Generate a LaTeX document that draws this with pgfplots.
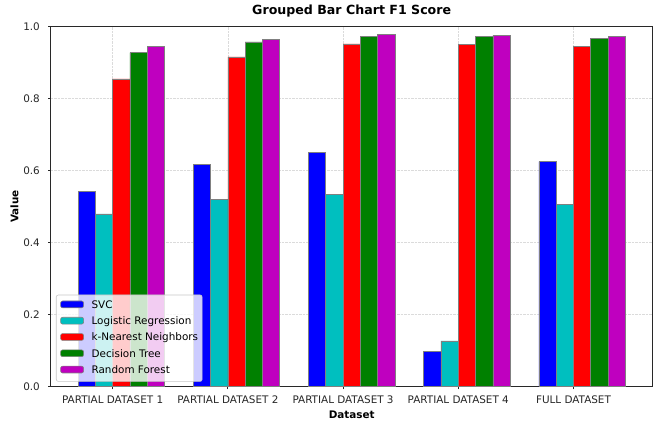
\documentclass[border=0pt]{standalone}
\usepackage{fontspec}
\setmainfont{DejaVu Sans}
\usepackage{pgfplots}
\usepackage{pgfplotstable}
\pgfplotsset{compat=1.18}

\definecolor{cSVC}{RGB}{0,0,255}
\definecolor{cLR}{RGB}{0,191,191}
\definecolor{cKNN}{RGB}{255,0,0}
\definecolor{cDT}{RGB}{0,128,0}
\definecolor{cRF}{RGB}{191,0,191}
\definecolor{spine}{RGB}{40,40,40}

\newcommand\labelfont{\fontsize{10.4}{12}\selectfont}

% F1 score per dataset (rows) and classifier (columns)
\pgfplotstableread{
pos svc   logreg knn   tree  forest
0   0.543 0.480  0.855 0.928 0.945
1   0.617 0.521  0.916 0.958 0.965
2   0.651 0.534  0.952 0.973 0.979
3   0.098 0.127  0.950 0.974 0.976
4   0.625 0.506  0.946 0.967 0.974
}\fscores

\begin{document}
\begin{tikzpicture}
\begin{axis}[
  at={(0,0)}, anchor=south west,
  scale only axis, width=602pt, height=360pt,
  xmin=-0.5375, xmax=4.6875, ymin=0, ymax=1,
  ybar, bar width=0.15,
  xtick={0,1,2,3,4},
  xticklabels={PARTIAL DATASET 1,PARTIAL DATASET 2,PARTIAL DATASET 3,PARTIAL DATASET 4,FULL DATASET},
  ytick={0,0.2,0.4,0.6,0.8,1},
  /pgf/number format/assume math mode=true,
  ticklabel style={font=\labelfont, text=black!85},
  xticklabel style={anchor=base, yshift=-14.7pt, inner sep=0pt},
  yticklabel style={/pgf/number format/fixed, /pgf/number format/fixed zerofill,
    /pgf/number format/precision=1, anchor=east, xshift=-8.1pt, inner sep=0pt},
  tick pos=left, tick align=outside, major tick length=2.6pt,
  tick style={draw=spine, line width=0.7pt},
  axis line style={draw=spine, line width=0.8pt},
  grid=major,
  major grid style={draw=black!14, line width=0.6pt, dash pattern=on 2.4pt off 1.1pt},
  title={Grouped Bar Chart F1 Score},
  title style={font=\bfseries\fontsize{12.6}{14}\selectfont, at={(0.5,1)}, anchor=base, yshift=6pt},
  xlabel={Dataset}, ylabel={Value},
  xlabel style={font=\bfseries\labelfont, at={(axis description cs:0.5,-0.087)}, anchor=base},
  ylabel style={font=\bfseries\labelfont, at={(axis description cs:-0.0538,0.5)}, anchor=base},
  legend cell align=left,
  legend style={at={(axis description cs:0.0088,0.0139)}, anchor=south west,
    draw=black!22, line width=0.6pt, fill=white, fill opacity=0.8, text opacity=1,
    rounded corners=2pt, font=\labelfont,
    inner xsep=4pt, inner ysep=5.7pt, column sep=7.7pt, row sep=6.5pt,
    nodes={inner sep=0pt, text height=7.6pt, text depth=2.2pt}},
  legend image code/.code={\draw[#1, fill opacity=1, draw opacity=1] (0pt,-2.2pt) rectangle (23pt,4.6pt);},
  every axis plot/.append style={draw=gray, line width=0.6pt},
]
\addplot[fill=cSVC, bar shift=-0.225] table[x=pos, y=svc]{\fscores};
\addplot[fill=cLR, bar shift=-0.075] table[x=pos, y=logreg]{\fscores};
\addplot[fill=cKNN, bar shift=0.075] table[x=pos, y=knn]{\fscores};
\addplot[fill=cDT, bar shift=0.225] table[x=pos, y=tree]{\fscores};
\addplot[fill=cRF, bar shift=0.375] table[x=pos, y=forest]{\fscores};
\legend{SVC,Logistic Regression,k-Nearest Neighbors,Decision Tree,Random Forest}
\end{axis}
\pgfresetboundingbox
\path (-50.7pt,-36.3pt) rectangle (605.3pt,386.7pt);
\end{tikzpicture}
\end{document}
